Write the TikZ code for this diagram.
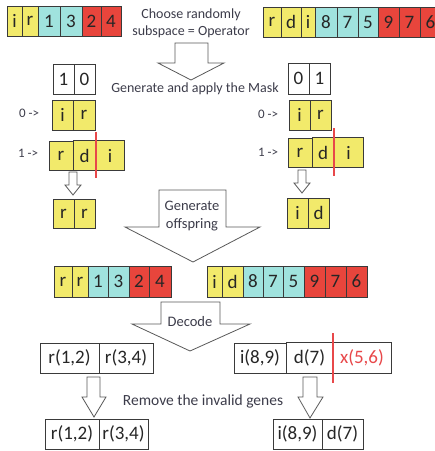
\documentclass[tikz,border=0pt]{standalone}
\usepackage{fontspec}
\setmainfont{Carlito}
\definecolor{cy}{HTML}{F2EA6B}
\definecolor{cc}{HTML}{A0E3DE}
\definecolor{cr}{HTML}{E8453C}
\definecolor{cw}{HTML}{FFFFFF}
\definecolor{lbl}{HTML}{3C3C4A}
\definecolor{edge}{HTML}{3A3A3A}
\definecolor{cut}{HTML}{E8484A}
\tikzset{
  cell/.style={draw=edge, line width=0.8pt, inner sep=0pt, font=\fontsize{19}{19}\selectfont, text=black!85},
  rim/.style={draw=edge, line width=0.8pt},
  lab/.style={text=lbl, font=\fontsize{14}{17}\selectfont, inner sep=0pt, align=center},
  blk/.style={draw=black!65, fill=white, line width=0.8pt, line join=miter},
  cutline/.style={draw=cut, line width=1.1pt}
}
\newcommand\mystrip[4]{%
  \foreach \a/\b/\c/\t [count=\i] in {#4} {%
    \node[cell, fill=\c, minimum width={\b-\a}, minimum height={#3-#2}] (#1\i) at ({(\a+\b)/2},{(#2+#3)/2}) {\t};}}
% open cell: fill only, no border of its own
\newcommand\opencell[7]{%
  \node[cell, draw=none, fill=#4, minimum width={#6-#5}, minimum height={#3-#2}] (#1) at ({(#5+#6)/2},{(#2+#3)/2}) {#7};}
\begin{document}
\begin{tikzpicture}[x=1pt,y=-1pt]
\useasboundingbox (0,0) rectangle (435,451);
% top strips
\mystrip{tl}{6}{36}{7/22/cy/i, 22/38/cy/r, 38/60/cc/1, 60/82/cc/3, 82/101/cr/2, 101/121/cr/4}
\mystrip{tr}{7}{37}{263/281/cy/r, 281/301/cy/d, 301/315/cy/i, 315/337/cc/8, 337/358/cc/7, 358/378/cc/5, 378/399/cr/9, 399/420/cr/7, 420/441/cr/6}
\node[lab] (choose) at (191,23.5) {Choose randomly\\subspace = Operator};
\draw[blk] (175,43) -- (208,43) -- (208,63) -- (224,63) -- (191,80) -- (158,63) -- (175,63) -- cycle;
% masks
\mystrip{ml}{64}{94}{53/74/cw/1, 74/95/cw/0}
\mystrip{mr}{63}{94}{288/309/cw/0, 309/330/cw/1}
\node[lab] (gen) at (195,89) {Generate and apply the Mask};
% left column
\node[lab, font=\fontsize{13}{13}\selectfont] (l0) at (29,113) {0 ->};
\mystrip{lir}{100}{130}{52/73/cy/i, 73/95/cy/r}
\node[lab, font=\fontsize{13}{13}\selectfont] (l1) at (28,153) {1 ->};
\opencell{lrdi2}{141}{170}{cy}{73}{96}{d}
\opencell{lrdi3}{141}{170}{cy}{96}{124}{i}
\mystrip{lrdi}{141}{170}{49/73/cy/r}
\draw[rim] (lrdi1.north east) -- (lrdi3.north east) -- (lrdi3.south east) -- (lrdi1.south east);
\draw[cutline] (96,132) -- (96,178);
\draw[blk] (69,172) -- (77,172) -- (77,185) -- (81,185) -- (73,195) -- (65,185) -- (69,185) -- cycle;
\mystrip{lrr}{199}{228}{53/74/cy/r, 74/95/cy/r}
% right column
\node[lab, font=\fontsize{13}{13}\selectfont] (r0) at (268,114) {0 ->};
\mystrip{rir}{100}{130}{289/310/cy/i, 310/331/cy/r}
\node[lab, font=\fontsize{13}{13}\selectfont] (r1) at (268,152) {1 ->};
\opencell{rrdi2}{138}{167}{cy}{312}{334}{d}
\opencell{rrdi3}{138}{167}{cy}{334}{363}{i}
\mystrip{rrdi}{138}{167}{288/312/cy/r}
\draw[rim] (rrdi1.north east) -- (rrdi3.north east) -- (rrdi3.south east) -- (rrdi1.south east);
\draw[cutline] (334,128) -- (334,176);
\draw[blk] (298,170) -- (306,170) -- (306,183) -- (310,183) -- (302,193) -- (294,183) -- (298,183) -- cycle;
\mystrip{rid}{198}{228}{287/308/cy/i, 308/329/cy/d}
% generate offspring arrow
\draw[blk] (159,190) -- (226,190) -- (226,227) -- (260,227) -- (193,262) -- (125,227) -- (159,227) -- cycle;
\node[lab, font=\fontsize{14.5}{18}\selectfont] (off) at (192,216) {Generate\\offspring};
% offspring strips
\mystrip{ol}{266}{297}{54/72/cy/r, 72/88/cy/r, 88/108/cc/1, 108/129/cc/3, 129/149/cr/2, 149/171/cr/4}
\mystrip{or}{266}{297}{207/222/cy/i, 222/243/cy/d, 243/263/cc/8, 263/283/cc/7, 283/304/cc/5, 304/325/cr/9, 325/346/cr/7, 346/367/cr/6}
% decode arrow
\draw[blk] (161,302) -- (220,302) -- (220,324) -- (250,324) -- (190,351) -- (132,324) -- (161,324) -- cycle;
\node[lab, font=\fontsize{14.5}{14.5}\selectfont] (dec) at (190,322) {Decode};
% decoded
\mystrip{dl}{343}{373}{40/99/cw/{r(1,2)}, 99/153/cw/{r(3,4)}}
\opencell{dr2}{343}{373}{cw}{286}{333}{d(7)}
\opencell{dr3}{343}{373}{cw}{333}{391}{\textcolor{cut}{x(5,6)}}
\mystrip{dr}{343}{373}{234/286/cw/{i(8,9)}}
\draw[rim] (dr1.north east) -- (dr3.north east) -- (dr3.south east) -- (dr1.south east);
\draw[cutline] (333,333) -- (333,383);
% remove arrows
\draw[blk] (87,377) -- (100,377) -- (100,397) -- (106,397) -- (94,417) -- (82,397) -- (87,397) -- cycle;
\draw[blk] (303,377) -- (317,377) -- (317,397) -- (323,397) -- (310,418) -- (298,397) -- (303,397) -- cycle;
\node[lab, font=\fontsize{15.5}{15.5}\selectfont] (rem) at (203,401) {Remove the invalid genes};
% final
\mystrip{fl}{419}{449}{45/99/cw/{r(1,2)}, 99/148/cw/{r(3,4)}}
\mystrip{fr}{419}{449}{273/322/cw/{i(8,9)}, 322/363/cw/{d(7)}}
\end{tikzpicture}
\end{document}
